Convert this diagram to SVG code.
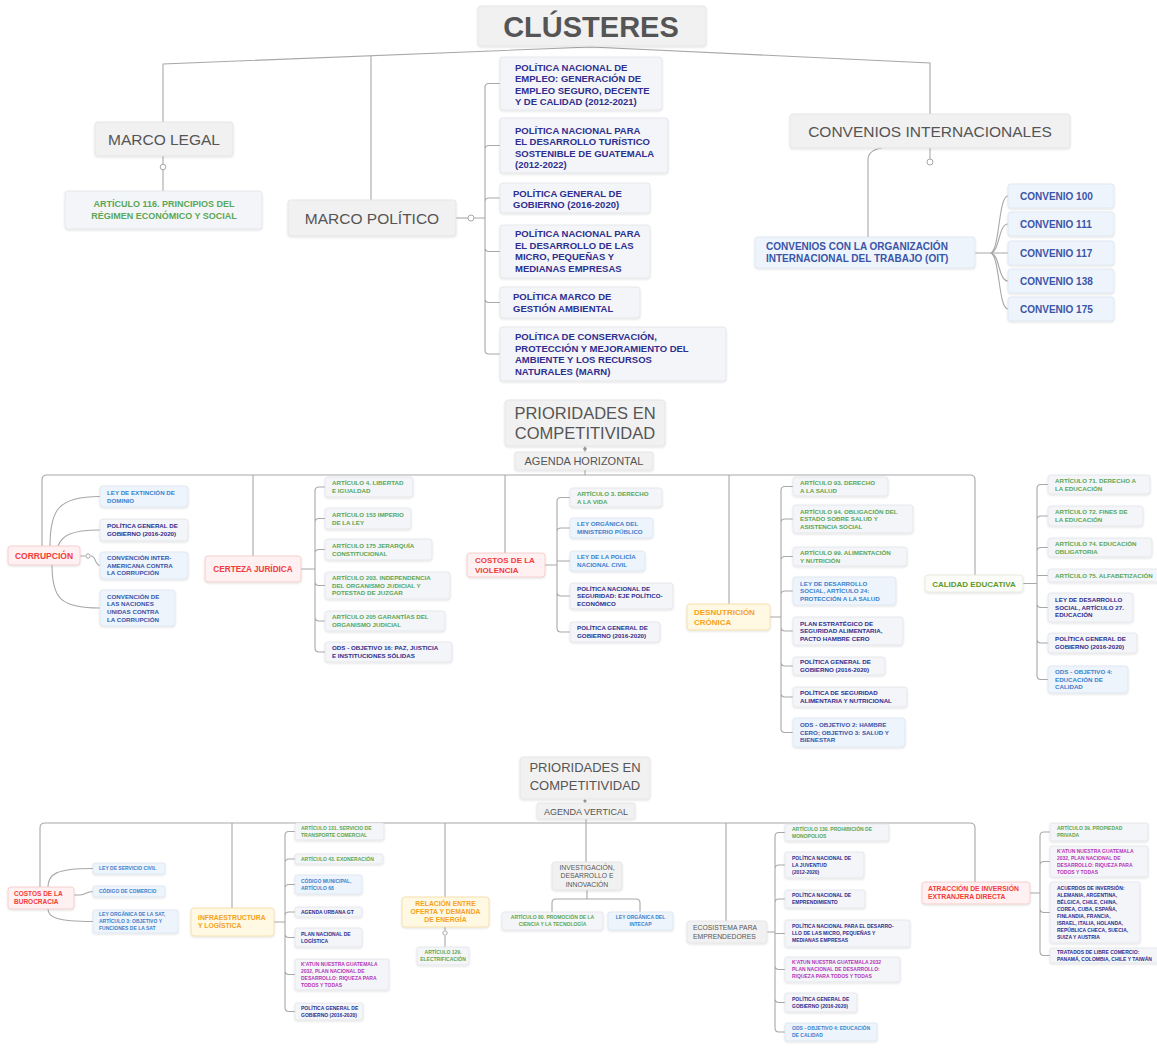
<svg xmlns="http://www.w3.org/2000/svg" width="1157" height="1056" viewBox="0 0 1157 1056">
<defs>
<filter id="sh" x="-10%" y="-20%" width="120%" height="150%"><feDropShadow dx="0" dy="1" stdDeviation="1.2" flood-color="#000" flood-opacity="0.13"/></filter>
<style>
.f{font-family:"Liberation Sans",Arial,Helvetica,sans-serif}
.ln{fill:none;stroke:#a8a8a8;stroke-width:1.1}
.dot{fill:#fff;stroke:#a8a8a8;stroke-width:1}
.n{fill:#f1f1f2;stroke:#e3e3e6;stroke-width:0.8;filter:url(#sh)}
.l{fill:#f4f5f8;stroke:#e0e2e8;stroke-width:0.7;filter:url(#sh)}
.lb{fill:#eef4fb;stroke:#d8e3f1;stroke-width:0.7;filter:url(#sh)}
.r{fill:#fff1f1;stroke:#f6c6c6;stroke-width:0.8;filter:url(#sh)}
.o{fill:#fff8e2;stroke:#f4dc9e;stroke-width:0.8;filter:url(#sh)}
.g{fill:#fbfcf8;stroke:#e3e8da;stroke-width:0.8;filter:url(#sh)}
.gy{fill:#555}
.nv{fill:#2e2f8f;font-weight:bold}
.gr{fill:#5aa757;font-weight:bold}
.bl{fill:#3b82cc;font-weight:bold}
.bn{fill:#3a55a8;font-weight:bold}
.mg{fill:#b535b8;font-weight:bold}
.rd{fill:#f23b3b;font-weight:bold}
.or{fill:#f5a21c;font-weight:bold}
.gn{fill:#5a9a2a;font-weight:bold}
.s{font-size:6.2px}
.t{font-size:5px}
.m{text-anchor:middle}
</style>
</defs>
<rect width="1157" height="1056" fill="#ffffff"/>

<!-- ============ CONNECTORS ============ -->
<g id="connectors">
<!-- top -->
<path class="ln" d="M163,122 V64 L591,47 L930,63 V114"/>
<path class="ln" d="M371,56 V200"/>
<path class="ln" d="M163,156 V164 M163,170 V191"/>
<circle class="dot" cx="163" cy="167" r="2.8"/>
<path class="ln" d="M456,218 H468"/>
<circle class="dot" cx="471" cy="218" r="3"/>
<path class="ln" d="M474,218 H485 M485,218 V87.5 Q485,83.5 489,83.5 H500 M485,218 V149.5 Q485,145.5 489,145.5 H500 M485,218 V202 Q485,198 489,198 H500 M485,218 V247.5 Q485,251.5 489,251.5 H500 M485,218 V298.5 Q485,302.5 489,302.5 H500 M485,218 V350 Q485,354 489,354 H500"/>
<path class="ln" d="M930,148 V159"/>
<circle class="dot" cx="930" cy="162" r="3"/>
<path class="ln" d="M882,148 Q868,150 868,160 V237"/>
<path class="ln" d="M975,253 H990 M990,253 C1000,253 998,196 1008,196 M990,253 C1000,253 998,224 1008,224 M990,253 H1008 M990,253 C1000,253 998,281 1008,281 M990,253 C1000,253 998,309 1008,309"/>

<!-- middle -->
<path class="ln" d="M585,446 V452 M585,470 V475"/>
<circle cx="585" cy="449" r="1.8" fill="#999"/>
<path class="ln" d="M42,546 V480 Q42,475 47,475 H970 Q975,475 975,480 V575 M253,475 V556 M505,475 V553 M729,475 V604"/>
<!-- corrupcion -->
<path class="ln" d="M50,546 C50,510 58,496.5 100,496.5 M58,546 C62,536 70,530 100,530 M80,556 H85 M91,556 C96,556 95,565.5 100,565.5 M52,565 C52,598 60,608 100,608"/>
<circle class="dot" cx="88" cy="556" r="2.2"/>
<!-- certeza -->
<path class="ln" d="M301,569 H315 M315,569 V491 Q315,487 319,487 H325 M315,569 V522.5 Q315,518.5 319,518.5 H325 M315,569 V553.5 Q315,549.5 319,549.5 H325 M315,569 V581.5 Q315,585.5 319,585.5 H325 M315,569 V617 Q315,621 319,621 H325 M315,569 V648 Q315,652 319,652 H325"/>
<!-- violencia -->
<path class="ln" d="M545,565 H557 M557,565 V501.5 Q557,497.5 561,497.5 H570 M557,565 V532 Q557,528 561,528 H570 M557,565 V561 H570 M557,565 V592 Q557,596 561,596 H570 M557,565 V628 Q557,632 561,632 H570"/>
<!-- desnutricion -->
<path class="ln" d="M770,617 H781 M781,617 V490.5 Q781,486.5 785,486.5 H793 M781,617 V523 Q781,519 785,519 H793 M781,617 V560.5 Q781,556.5 785,556.5 H793 M781,617 V595 Q781,591 785,591 H793 M781,617 V627 Q781,631 785,631 H793 M781,617 V662 Q781,666 785,666 H793 M781,617 V693 Q781,697 785,697 H793 M781,617 V728.5 Q781,732.5 785,732.5 H793"/>
<!-- calidad -->
<path class="ln" d="M1023,583.5 H1037 M1037,583.5 V488.5 Q1037,484.5 1041,484.5 H1048 M1037,583.5 V520 Q1037,516 1041,516 H1048 M1037,583.5 V551.5 Q1037,547.5 1041,547.5 H1048 M1037,583.5 V575.5 H1048 M1037,583.5 V603.5 Q1037,607.5 1041,607.5 H1048 M1037,583.5 V639 Q1037,643 1041,643 H1048 M1037,583.5 V675.5 Q1037,679.5 1041,679.5 H1048"/>

<!-- bottom -->
<path class="ln" d="M585,799 V803"/>
<circle cx="585" cy="801" r="1.6" fill="#999"/>
<path class="ln" d="M40,887 V828 Q40,823 45,823 H970 Q975,823 975,828 V882 M232,823 V908 M445,823 V897 M586,819 V862 M726,823 V921"/>
<!-- burocracia -->
<path class="ln" d="M48,887 C48,874 56,868.5 93,868.5 M74,895 H80 M80,895 C86,895 86,891.5 93,891.5 M48,909 C48,917 56,921.5 93,921.5"/>
<!-- infraestructura -->
<path class="ln" d="M274,922 H285 M285,922 V835.5 Q285,831.5 289,831.5 H295 M285,922 V863 Q285,859 289,859 H295 M285,922 V888.5 Q285,884.5 289,884.5 H295 M285,922 V916 Q285,912 289,912 H295 M285,922 V933.5 Q285,937.5 289,937.5 H295 M285,922 V970.5 Q285,974.5 289,974.5 H295 M285,922 V1007.5 Q285,1011.5 289,1011.5 H295"/>
<!-- energia -->
<path class="ln" d="M445,927 V930 M445,936 V947"/>
<circle class="dot" cx="445" cy="933" r="2.2"/>
<!-- investigacion -->
<path class="ln" d="M587,890 V899 M552,912 V903 Q552,899 556,899 H636 Q640,899 640,903 V912"/>
<!-- ecosistema -->
<path class="ln" d="M767,932 H775 M775,932 V836.5 Q775,832.5 779,832.5 H785 M775,932 V869 Q775,865 779,865 H785 M775,932 V903 Q775,899 779,899 H785 M775,932 V933.5 H785 M775,932 V965.5 Q775,969.5 779,969.5 H785 M775,932 V998.5 Q775,1002.5 779,1002.5 H785 M775,932 V1028 Q775,1032 779,1032 H785"/>
<!-- atraccion -->
<path class="ln" d="M1030,893 H1040 M1040,893 V836 Q1040,832 1044,832 H1050 M1040,893 V865.5 Q1040,861.5 1044,861.5 H1050 M1040,893 V908.5 Q1040,912.5 1044,912.5 H1050 M1040,893 V951.5 Q1040,955.5 1044,955.5 H1050"/>
</g>

<!-- ============ TOP SECTION ============ -->
<g id="clusteres"><rect class="n" x="478" y="6" width="228" height="40" rx="3"/><text class="f gy m" x="591" y="37" font-size="29" font-weight="bold">CLÚSTERES</text></g>

<g id="marco-legal"><rect class="n" x="95" y="122" width="138" height="34" rx="3"/><text class="f gy m" x="164" y="144.5" font-size="15.5">MARCO LEGAL</text></g>
<g id="art116"><rect class="l" x="65" y="191" width="197" height="38" rx="3"/><text class="f gr m" font-size="9"><tspan x="164" y="207">ARTÍCULO 116. PRINCIPIOS DEL</tspan><tspan x="164" y="219">RÉGIMEN ECONÓMICO Y SOCIAL</tspan></text></g>

<g id="marco-politico"><rect class="n" x="288" y="200" width="168" height="36" rx="3"/><text class="f gy m" x="372" y="223.5" font-size="15.5">MARCO POLÍTICO</text></g>

<g id="pol1"><rect class="l" x="500" y="57" width="162" height="53" rx="3"/><text class="f nv" font-size="9.5"><tspan x="515" y="70.5">POLÍTICA NACIONAL DE</tspan><tspan x="515" y="82">EMPLEO: GENERACIÓN DE</tspan><tspan x="515" y="93.5">EMPLEO SEGURO, DECENTE</tspan><tspan x="515" y="105">Y DE CALIDAD (2012-2021)</tspan></text></g>
<g id="pol2"><rect class="l" x="500" y="118" width="168" height="55" rx="3"/><text class="f nv" font-size="9.5"><tspan x="515" y="133.5">POLÍTICA NACIONAL PARA</tspan><tspan x="515" y="145">EL DESARROLLO TURÍSTICO</tspan><tspan x="515" y="156.5">SOSTENIBLE DE GUATEMALA</tspan><tspan x="515" y="168">(2012-2022)</tspan></text></g>
<g id="pol3"><rect class="l" x="500" y="183" width="150" height="30" rx="3"/><text class="f nv" font-size="9.5"><tspan x="513" y="196.5">POLÍTICA GENERAL DE</tspan><tspan x="513" y="208">GOBIERNO (2016-2020)</tspan></text></g>
<g id="pol4"><rect class="l" x="500" y="225" width="150" height="53" rx="3"/><text class="f nv" font-size="9.5"><tspan x="515" y="237">POLÍTICA NACIONAL PARA</tspan><tspan x="515" y="248.5">EL DESARROLLO DE LAS</tspan><tspan x="515" y="260">MICRO, PEQUEÑAS Y</tspan><tspan x="515" y="271.5">MEDIANAS EMPRESAS</tspan></text></g>
<g id="pol5"><rect class="l" x="500" y="287" width="140" height="31" rx="3"/><text class="f nv" font-size="9.5"><tspan x="513" y="300">POLÍTICA MARCO DE</tspan><tspan x="513" y="311.5">GESTIÓN AMBIENTAL</tspan></text></g>
<g id="pol6"><rect class="l" x="500" y="327" width="226" height="54" rx="3"/><text class="f nv" font-size="9.5"><tspan x="515" y="340">POLÍTICA DE CONSERVACIÓN,</tspan><tspan x="515" y="351.5">PROTECCIÓN Y MEJORAMIENTO DEL</tspan><tspan x="515" y="363">AMBIENTE Y LOS RECURSOS</tspan><tspan x="515" y="374.5">NATURALES (MARN)</tspan></text></g>

<g id="convenios-int"><rect class="n" x="790" y="114" width="280" height="34" rx="3"/><text class="f gy m" x="930" y="137" font-size="15.5">CONVENIOS INTERNACIONALES</text></g>
<g id="oit"><rect class="lb" x="755" y="237" width="220" height="31" rx="3"/><text class="f bn" font-size="10" fill="#3a6ab5"><tspan x="766" y="250">CONVENIOS CON LA ORGANIZACIÓN</tspan><tspan x="766" y="262">INTERNACIONAL DEL TRABAJO  (OIT)</tspan></text></g>
<g id="c100"><rect class="lb" x="1008" y="184" width="106" height="24" rx="3"/><text class="f bn" x="1020" y="199.5" font-size="10">CONVENIO 100</text></g>
<g id="c111"><rect class="lb" x="1008" y="212" width="106" height="24" rx="3"/><text class="f bn" x="1020" y="227.5" font-size="10">CONVENIO 111</text></g>
<g id="c117"><rect class="lb" x="1008" y="241" width="106" height="24" rx="3"/><text class="f bn" x="1020" y="256.5" font-size="10">CONVENIO 117</text></g>
<g id="c138"><rect class="lb" x="1008" y="269" width="106" height="24" rx="3"/><text class="f bn" x="1020" y="284.5" font-size="10">CONVENIO 138</text></g>
<g id="c175"><rect class="lb" x="1008" y="297" width="106" height="24" rx="3"/><text class="f bn" x="1020" y="312.5" font-size="10">CONVENIO 175</text></g>

<!-- ============ MIDDLE SECTION ============ -->
<g id="prioridades-h"><rect class="n" x="505" y="400" width="160" height="46" rx="3"/><text class="f gy m" font-size="16.5"><tspan x="585" y="419">PRIORIDADES EN</tspan><tspan x="585" y="439">COMPETITIVIDAD</tspan></text></g>
<g id="agenda-h"><rect class="n" x="515" y="452" width="138" height="18" rx="2"/><text class="f gy m" x="584" y="465" font-size="11">AGENDA HORIZONTAL</text></g>

<g id="corrupcion"><rect class="r" x="8" y="546" width="72" height="19" rx="3"/><text class="f rd m" x="44" y="558.5" font-size="8.5">CORRUPCIÓN</text></g>
<g id="cor1"><rect class="lb" x="100" y="486" width="88" height="21" rx="3"/><text class="f bl s"><tspan x="107" y="495">LEY DE EXTINCIÓN DE</tspan><tspan x="107" y="502.6">DOMINIO</tspan></text></g>
<g id="cor2"><rect class="l" x="100" y="519" width="88" height="22" rx="3"/><text class="f nv s"><tspan x="107" y="528.4">POLÍTICA GENERAL DE</tspan><tspan x="107" y="536">GOBIERNO (2016-2020)</tspan></text></g>
<g id="cor3"><rect class="lb" x="100" y="552" width="88" height="27" rx="3"/><text class="f bn s"><tspan x="107" y="560.1">CONVENCIÓN INTER-</tspan><tspan x="107" y="567.7">AMERICANA CONTRA</tspan><tspan x="107" y="575.3">LA CORRUPCIÓN</tspan></text></g>
<g id="cor4"><rect class="lb" x="100" y="590" width="75" height="36" rx="3"/><text class="f bn s"><tspan x="107" y="598.8">CONVENCIÓN DE</tspan><tspan x="107" y="606.4">LAS NACIONES</tspan><tspan x="107" y="614">UNIDAS CONTRA</tspan><tspan x="107" y="621.6">LA CORRUPCIÓN</tspan></text></g>

<g id="certeza"><rect class="r" x="205" y="556" width="96" height="26" rx="3"/><text class="f rd m" x="253" y="572" font-size="8.2">CERTEZA JURÍDICA</text></g>
<g id="cer1"><rect class="l" x="325" y="477" width="88" height="20" rx="3"/><text class="f gr s"><tspan x="332" y="485.4">ARTÍCULO 4. LIBERTAD</tspan><tspan x="332" y="493">E IGUALDAD</tspan></text></g>
<g id="cer2"><rect class="l" x="325" y="508" width="86" height="21" rx="3"/><text class="f gr s"><tspan x="332" y="516.9">ARTÍCULO 153 IMPERIO</tspan><tspan x="332" y="524.5">DE LA LEY</tspan></text></g>
<g id="cer3"><rect class="l" x="325" y="539" width="107" height="21" rx="3"/><text class="f gr s"><tspan x="332" y="547.9">ARTÍCULO 175 JERARQUÍA</tspan><tspan x="332" y="555.5">CONSTITUCIONAL</tspan></text></g>
<g id="cer4"><rect class="l" x="325" y="572" width="125" height="27" rx="3"/><text class="f gr s"><tspan x="332" y="580.1">ARTÍCULO 203. INDEPENDENCIA</tspan><tspan x="332" y="587.7">DEL ORGANISMO JUDICIAL Y</tspan><tspan x="332" y="595.3">POTESTAD DE JUZGAR</tspan></text></g>
<g id="cer5"><rect class="l" x="325" y="611" width="120" height="20" rx="3"/><text class="f gr s"><tspan x="332" y="619.4">ARTÍCULO 205 GARANTÍAS DEL</tspan><tspan x="332" y="627">ORGANISMO JUDICIAL</tspan></text></g>
<g id="cer6"><rect class="l" x="325" y="642" width="127" height="20" rx="3"/><text class="f nv s"><tspan x="332" y="650.4">ODS - OBJETIVO 16: PAZ, JUSTICIA</tspan><tspan x="332" y="658">E INSTITUCIONES SÓLIDAS</tspan></text></g>

<g id="violencia"><rect class="r" x="467" y="553" width="78" height="24" rx="3"/><text class="f rd" font-size="8"><tspan x="475" y="563.1">COSTOS DE LA</tspan><tspan x="475" y="572.6">VIOLENCIA</tspan></text></g>
<g id="vio1"><rect class="l" x="570" y="488" width="92" height="19" rx="3"/><text class="f gr s"><tspan x="577" y="495.9">ARTÍCULO 3. DERECHO</tspan><tspan x="577" y="503.5">A LA VIDA</tspan></text></g>
<g id="vio2"><rect class="lb" x="570" y="518" width="83" height="20" rx="3"/><text class="f bl s"><tspan x="577" y="526.4">LEY ORGÁNICA DEL</tspan><tspan x="577" y="534">MINISTERIO PÚBLICO</tspan></text></g>
<g id="vio3"><rect class="lb" x="570" y="551" width="75" height="20" rx="3"/><text class="f bl s"><tspan x="577" y="559.4">LEY DE LA POLICÍA</tspan><tspan x="577" y="567">NACIONAL CIVIL</tspan></text></g>
<g id="vio4"><rect class="l" x="570" y="583" width="103" height="26" rx="3"/><text class="f nv s"><tspan x="577" y="590.6">POLÍTICA NACIONAL DE</tspan><tspan x="577" y="598.2">SEGURIDAD: EJE POLÍTICO-</tspan><tspan x="577" y="605.8">ECONÓMICO</tspan></text></g>
<g id="vio5"><rect class="l" x="570" y="622" width="90" height="20" rx="3"/><text class="f nv s"><tspan x="577" y="630.4">POLÍTICA GENERAL DE</tspan><tspan x="577" y="638">GOBIERNO (2016-2020)</tspan></text></g>

<g id="desnutricion"><rect class="o" x="687" y="604" width="83" height="26" rx="3"/><text class="f or" font-size="8"><tspan x="694" y="615.1">DESNUTRICIÓN</tspan><tspan x="694" y="624.6">CRÓNICA</tspan></text></g>
<g id="des1"><rect class="l" x="793" y="477" width="95" height="19" rx="3"/><text class="f gr s"><tspan x="800" y="484.9">ARTÍCULO 93. DERECHO</tspan><tspan x="800" y="492.5">A LA SALUD</tspan></text></g>
<g id="des2"><rect class="l" x="793" y="505" width="120" height="28" rx="3"/><text class="f gr s"><tspan x="800" y="513.6">ARTÍCULO 94. OBLIGACIÓN DEL</tspan><tspan x="800" y="521.2">ESTADO SOBRE SALUD Y</tspan><tspan x="800" y="528.8">ASISTENCIA SOCIAL</tspan></text></g>
<g id="des3"><rect class="l" x="793" y="547" width="114" height="19" rx="3"/><text class="f gr s"><tspan x="800" y="554.9">ARTÍCULO 99. ALIMENTACIÓN</tspan><tspan x="800" y="562.5">Y NUTRICIÓN</tspan></text></g>
<g id="des4"><rect class="lb" x="793" y="577" width="103" height="28" rx="3"/><text class="f bl s"><tspan x="800" y="585.6">LEY DE DESARROLLO</tspan><tspan x="800" y="593.2">SOCIAL, ARTÍCULO 24:</tspan><tspan x="800" y="600.8">PROTECCIÓN A LA SALUD</tspan></text></g>
<g id="des5"><rect class="l" x="793" y="617" width="110" height="28" rx="3"/><text class="f nv s"><tspan x="800" y="625.6">PLAN ESTRATÉGICO DE</tspan><tspan x="800" y="633.2">SEGURIDAD ALIMENTARIA,</tspan><tspan x="800" y="640.8">PACTO HAMBRE CERO</tspan></text></g>
<g id="des6"><rect class="l" x="793" y="657" width="92" height="18" rx="3"/><text class="f nv s"><tspan x="800" y="664.4">POLÍTICA GENERAL DE</tspan><tspan x="800" y="672">GOBIERNO (2016-2020)</tspan></text></g>
<g id="des7"><rect class="l" x="793" y="687" width="114" height="20" rx="3"/><text class="f nv s"><tspan x="800" y="695.4">POLÍTICA DE SEGURIDAD</tspan><tspan x="800" y="703">ALIMENTARIA Y NUTRICIONAL</tspan></text></g>
<g id="des8"><rect class="lb" x="793" y="718" width="112" height="29" rx="3"/><text class="f bn s"><tspan x="800" y="727.1">ODS - OBJETIVO 2: HAMBRE</tspan><tspan x="800" y="734.7">CERO; OBJETIVO 3: SALUD Y</tspan><tspan x="800" y="742.3">BIENESTAR</tspan></text></g>

<g id="calidad"><rect class="g" x="925" y="575" width="98" height="17" rx="3"/><text class="f gn m" x="974" y="586.5" font-size="8">CALIDAD EDUCATIVA</text></g>
<g id="cal1"><rect class="l" x="1048" y="475" width="102" height="19" rx="3"/><text class="f gr s"><tspan x="1055" y="482.9">ARTÍCULO 71. DERECHO A</tspan><tspan x="1055" y="490.5">LA EDUCACIÓN</tspan></text></g>
<g id="cal2"><rect class="l" x="1048" y="506" width="95" height="20" rx="3"/><text class="f gr s"><tspan x="1055" y="514.4">ARTÍCULO 72. FINES DE</tspan><tspan x="1055" y="522">LA EDUCACIÓN</tspan></text></g>
<g id="cal3"><rect class="l" x="1048" y="538" width="104" height="19" rx="3"/><text class="f gr s"><tspan x="1055" y="545.9">ARTÍCULO 74. EDUCACIÓN</tspan><tspan x="1055" y="553.5">OBLIGATORIA</tspan></text></g>
<g id="cal4"><rect class="l" x="1048" y="569" width="112" height="13" rx="3"/><text class="f gr s" x="1055" y="577.7">ARTÍCULO 75. ALFABETIZACIÓN</text></g>
<g id="cal5"><rect class="l" x="1048" y="593" width="85" height="29" rx="3"/><text class="f nv s"><tspan x="1055" y="602.1">LEY DE DESARROLLO</tspan><tspan x="1055" y="609.7">SOCIAL, ARTÍCULO 27.</tspan><tspan x="1055" y="617.3">EDUCACIÓN</tspan></text></g>
<g id="cal6"><rect class="l" x="1048" y="633" width="89" height="20" rx="3"/><text class="f nv s"><tspan x="1055" y="641.4">POLÍTICA GENERAL DE</tspan><tspan x="1055" y="649">GOBIERNO (2016-2020)</tspan></text></g>
<g id="cal7"><rect class="lb" x="1048" y="666" width="80" height="27" rx="3"/><text class="f bl s"><tspan x="1055" y="674.1">ODS - OBJETIVO 4:</tspan><tspan x="1055" y="681.7">EDUCACIÓN DE</tspan><tspan x="1055" y="689.3">CALIDAD</tspan></text></g>

<!-- ============ BOTTOM SECTION ============ -->
<g id="prioridades-v"><rect class="n" x="520" y="757" width="130" height="42" rx="3"/><text class="f gy m" font-size="13"><tspan x="585" y="772">PRIORIDADES EN</tspan><tspan x="585" y="790">COMPETITIVIDAD</tspan></text></g>
<g id="agenda-v"><rect class="n" x="537" y="803" width="98" height="16" rx="2"/><text class="f gy m" x="586" y="814.5" font-size="9">AGENDA VERTICAL</text></g>

<g id="burocracia"><rect class="r" x="8" y="887" width="66" height="22" rx="3"/><text class="f rd" font-size="6.5"><tspan x="14" y="896.3">COSTOS DE LA</tspan><tspan x="14" y="904.3">BUROCRACIA</tspan></text></g>
<g id="bur1"><rect class="lb" x="93" y="863" width="72" height="11" rx="2"/><text class="f bl t" x="99" y="870.3">LEY DE SERVICIO CIVIL</text></g>
<g id="bur2"><rect class="lb" x="93" y="886" width="72" height="11" rx="2"/><text class="f bl t" x="99" y="893.3">CÓDIGO DE COMERCIO</text></g>
<g id="bur3"><rect class="lb" x="93" y="910" width="85" height="23" rx="2"/><text class="f bl t"><tspan x="99" y="916.3">LEY ORGÁNICA DE LA SAT,</tspan><tspan x="99" y="923.3">ARTÍCULO 3: OBJETIVO Y</tspan><tspan x="99" y="930.3">FUNCIONES DE LA SAT</tspan></text></g>

<g id="infraestructura"><rect class="o" x="191" y="908" width="83" height="28" rx="3"/><text class="f or" font-size="6.8"><tspan x="198" y="920.3">INFRAESTRUCTURA</tspan><tspan x="198" y="928.3">Y LOGÍSTICA</tspan></text></g>
<g id="inf1"><rect class="l" x="295" y="823" width="89" height="17" rx="2"/><text class="f gr t"><tspan x="301" y="829.8">ARTÍCULO 131. SERVICIO DE</tspan><tspan x="301" y="836.8">TRANSPORTE COMERCIAL</tspan></text></g>
<g id="inf2"><rect class="l" x="295" y="854" width="88" height="10" rx="2"/><text class="f gr t" x="301" y="860.8">ARTÍCULO 43. EXONERACIÓN</text></g>
<g id="inf3"><rect class="lb" x="295" y="875" width="67" height="19" rx="2"/><text class="f bl t"><tspan x="301" y="882.8">CÓDIGO MUNICIPAL,</tspan><tspan x="301" y="889.8">ARTÍCULO 68</tspan></text></g>
<g id="inf4"><rect class="l" x="295" y="907" width="67" height="10" rx="2"/><text class="f nv t" x="301" y="913.8">AGENDA URBANA GT</text></g>
<g id="inf5"><rect class="l" x="295" y="928" width="67" height="19" rx="2"/><text class="f nv t"><tspan x="301" y="935.8">PLAN NACIONAL DE</tspan><tspan x="301" y="942.8">LOGÍSTICA</tspan></text></g>
<g id="inf6"><rect class="l" x="295" y="959" width="94" height="31" rx="2"/><text class="f mg t"><tspan x="301" y="965.8">K'ATUN NUESTRA GUATEMALA</tspan><tspan x="301" y="972.8">2032, PLAN NACIONAL DE</tspan><tspan x="301" y="979.8">DESARROLLO: RIQUEZA PARA</tspan><tspan x="301" y="986.8">TODOS Y TODAS</tspan></text></g>
<g id="inf7"><rect class="l" x="295" y="1003" width="68" height="17" rx="2"/><text class="f nv t"><tspan x="301" y="1009.8">POLÍTICA GENERAL DE</tspan><tspan x="301" y="1016.8">GOBIERNO (2016-2020)</tspan></text></g>

<g id="energia"><rect class="o" x="402" y="897" width="87" height="30" rx="3"/><text class="f or m" font-size="6.8"><tspan x="445.5" y="906.4">RELACIÓN ENTRE</tspan><tspan x="445.5" y="914.4">OFERTA Y DEMANDA</tspan><tspan x="445.5" y="922.4">DE ENERGÍA</tspan></text></g>
<g id="ene1"><rect class="l" x="417" y="947" width="52" height="18" rx="2"/><text class="f gr t m"><tspan x="443" y="954.3">ARTÍCULO 129.</tspan><tspan x="443" y="961.3">ELECTRIFICACIÓN</tspan></text></g>

<g id="investigacion"><rect class="n" x="552" y="862" width="70" height="28" rx="3"/><text class="f gy m" font-size="6.8"><tspan x="587" y="870.1">INVESTIGACIÓN,</tspan><tspan x="587" y="878.4">DESARROLLO E</tspan><tspan x="587" y="886.7">INNOVACIÓN</tspan></text></g>
<g id="inv1"><rect class="l" x="502" y="912" width="101" height="18" rx="2"/><text class="f gr t m"><tspan x="552.5" y="919.3">ARTÍCULO 80. PROMOCIÓN DE LA</tspan><tspan x="552.5" y="926.3">CIENCIA Y LA TECNOLOGÍA</tspan></text></g>
<g id="inv2"><rect class="lb" x="608" y="912" width="65" height="18" rx="2"/><text class="f bl t m"><tspan x="640.5" y="919.3">LEY ORGÁNICA DEL</tspan><tspan x="640.5" y="926.3">INTECAP</tspan></text></g>

<g id="ecosistema"><rect class="n" x="687" y="921" width="80" height="22" rx="3"/><text class="f gy" font-size="6.8"><tspan x="693" y="930.1">ECOSISTEMA PARA</tspan><tspan x="693" y="938.6">EMPRENDEDORES</tspan></text></g>
<g id="eco1"><rect class="l" x="785" y="824" width="104" height="17" rx="2"/><text class="f gr t"><tspan x="792" y="830.8">ARTÍCULO 130. PROHIBICIÓN DE</tspan><tspan x="792" y="837.8">MONOPOLIOS</tspan></text></g>
<g id="eco2"><rect class="l" x="785" y="852" width="79" height="26" rx="2"/><text class="f nv t"><tspan x="792" y="859.8">POLÍTICA NACIONAL DE</tspan><tspan x="792" y="866.8">LA JUVENTUD</tspan><tspan x="792" y="873.8">(2012-2020)</tspan></text></g>
<g id="eco3"><rect class="l" x="785" y="890" width="80" height="18" rx="2"/><text class="f nv t"><tspan x="792" y="897.3">POLÍTICA NACIONAL DE</tspan><tspan x="792" y="904.3">EMPRENDIMIENTO</tspan></text></g>
<g id="eco4"><rect class="l" x="785" y="920" width="125" height="27" rx="2"/><text class="f nv t"><tspan x="792" y="928.3">POLÍTICA NACIONAL PARA EL DESARRO-</tspan><tspan x="792" y="935.3">LLO DE LAS MICRO, PEQUEÑAS Y</tspan><tspan x="792" y="942.3">MEDIANAS EMPRESAS</tspan></text></g>
<g id="eco5"><rect class="l" x="785" y="957" width="115" height="25" rx="2"/><text class="f mg t"><tspan x="792" y="964.3">K'ATUN NUESTRA GUATEMALA 2032</tspan><tspan x="792" y="971.3">PLAN NACIONAL DE DESARROLLO:</tspan><tspan x="792" y="978.3">RIQUEZA PARA TODOS Y TODAS</tspan></text></g>
<g id="eco6"><rect class="l" x="785" y="993" width="72" height="19" rx="2"/><text class="f nv t"><tspan x="792" y="1000.8">POLÍTICA GENERAL DE</tspan><tspan x="792" y="1007.8">GOBIERNO (2016-2020)</tspan></text></g>
<g id="eco7"><rect class="lb" x="785" y="1023" width="92" height="18" rx="2"/><text class="f bl t"><tspan x="792" y="1030.3">ODS - OBJETIVO 4: EDUCACIÓN</tspan><tspan x="792" y="1037.3">DE CALIDAD</tspan></text></g>

<g id="atraccion"><rect class="r" x="922" y="882" width="108" height="22" rx="3"/><text class="f rd" font-size="6.8"><tspan x="928" y="891.3">ATRACCIÓN DE INVERSIÓN</tspan><tspan x="928" y="899.3">EXTRANJERA DIRECTA</tspan></text></g>
<g id="atr1"><rect class="l" x="1050" y="823" width="98" height="18" rx="2"/><text class="f gr t"><tspan x="1057" y="830.3">ARTÍCULO 39. PROPIEDAD</tspan><tspan x="1057" y="837.3">PRIVADA</tspan></text></g>
<g id="atr2"><rect class="l" x="1050" y="846" width="98" height="31" rx="2"/><text class="f mg t"><tspan x="1057" y="852.8">K'ATUN NUESTRA GUATEMALA</tspan><tspan x="1057" y="859.8">2032, PLAN NACIONAL DE</tspan><tspan x="1057" y="866.8">DESARROLLO: RIQUEZA PARA</tspan><tspan x="1057" y="873.8">TODOS Y TODAS</tspan></text></g>
<g id="atr3"><rect class="l" x="1050" y="882" width="90" height="61" rx="2"/><text class="f nv t"><tspan x="1057" y="889.8">ACUERDOS DE INVERSIÓN:</tspan><tspan x="1057" y="896.8">ALEMANIA, ARGENTINA,</tspan><tspan x="1057" y="903.8">BÉLGICA, CHILE, CHINA,</tspan><tspan x="1057" y="910.8">COREA, CUBA, ESPAÑA,</tspan><tspan x="1057" y="917.8">FINLANDIA, FRANCIA,</tspan><tspan x="1057" y="924.8">ISRAEL, ITALIA, HOLANDA,</tspan><tspan x="1057" y="931.8">REPÚBLICA CHECA, SUECIA,</tspan><tspan x="1057" y="938.8">SUIZA Y AUSTRIA</tspan></text></g>
<g id="atr4"><rect class="l" x="1050" y="948" width="115" height="15" rx="2"/><text class="f nv t"><tspan x="1057" y="953.8">TRATADOS DE LIBRE COMERCIO:</tspan><tspan x="1057" y="960.8">PANAMÁ, COLOMBIA, CHILE Y TAIWÁN</tspan></text></g>
</svg>
